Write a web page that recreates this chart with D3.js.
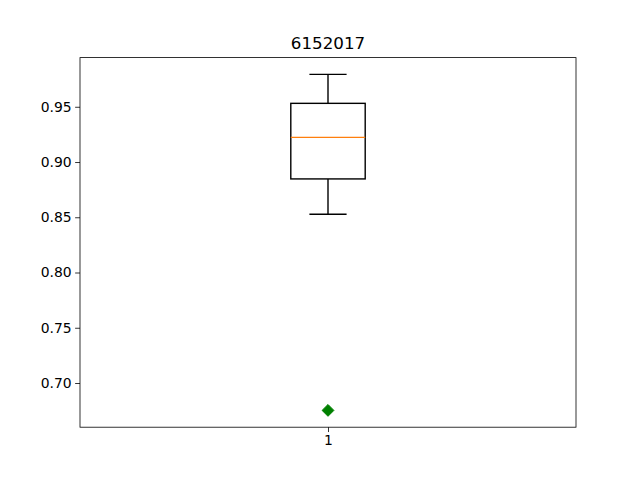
<!DOCTYPE html>
<html>
<head>
<meta charset="utf-8">
<script src="https://cdn.jsdelivr.net/npm/d3@7"></script>
<style>
  body { margin: 0; background: #fff; }
  svg { display: block; font-family: "DejaVu Sans", sans-serif; }
</style>
</head>
<body>
<svg id="chart" width="640" height="480"></svg>
<script>
// Data
const title = "6152017";
const categories = ["1"];
const whiskerLow = [0.8527];
const q1 = [0.8847];
const median = [0.9223];
const q3 = [0.9531];
const whiskerHigh = [0.9793];
const outliers = [[0.6752]];
const yTicks = [0.70, 0.75, 0.80, 0.85, 0.90, 0.95];

const W = 640, H = 480;
const m = { left: 80, right: 576, top: 57.6, bottom: 427.2 };
const svg = d3.select("#chart");
svg.append("rect").attr("width", W).attr("height", H).attr("fill", "#fff");

const x = d3.scaleLinear().domain([0.5, 1.5]).range([m.left, m.right]);
const y = d3.scaleLinear().domain([0.66, 0.9945]).range([m.bottom, m.top]);

const boxW = 0.15, capW = 0.075;

const g = svg.append("g");
categories.forEach((c, i) => {
  const pos = i + 1;
  // whiskers
  g.append("line").attr("x1", x(pos)).attr("x2", x(pos))
    .attr("y1", y(q1[i])).attr("y2", y(whiskerLow[i]))
    .attr("stroke", "#000").attr("stroke-width", 1.4);
  g.append("line").attr("x1", x(pos)).attr("x2", x(pos))
    .attr("y1", y(q3[i])).attr("y2", y(whiskerHigh[i]))
    .attr("stroke", "#000").attr("stroke-width", 1.4);
  // caps
  [whiskerLow[i], whiskerHigh[i]].forEach(v => {
    g.append("line").attr("x1", x(pos - capW / 2)).attr("x2", x(pos + capW / 2))
      .attr("y1", y(v)).attr("y2", y(v))
      .attr("stroke", "#000").attr("stroke-width", 1.4);
  });
  // box
  g.append("rect")
    .attr("x", x(pos - boxW / 2)).attr("width", x(pos + boxW / 2) - x(pos - boxW / 2))
    .attr("y", y(q3[i])).attr("height", y(q1[i]) - y(q3[i]))
    .attr("fill", "none").attr("stroke", "#000").attr("stroke-width", 1.4);
  // median
  g.append("line").attr("x1", x(pos - boxW / 2)).attr("x2", x(pos + boxW / 2))
    .attr("y1", y(median[i])).attr("y2", y(median[i]))
    .attr("stroke", "#ff7f0e").attr("stroke-width", 1.4);
  // outliers
  outliers[i].forEach(v => {
    const s = 5.9;
    g.append("path")
      .attr("d", `M${x(pos)},${y(v) - s} L${x(pos) + s},${y(v)} L${x(pos)},${y(v) + s} L${x(pos) - s},${y(v)} Z`)
      .attr("fill", "#008000").attr("stroke", "#008000").attr("stroke-width", 1);
  });
});

// axes frame
svg.append("rect").attr("x", m.left).attr("y", m.top)
  .attr("width", m.right - m.left).attr("height", m.bottom - m.top)
  .attr("fill", "none").attr("stroke", "#000").attr("stroke-width", 0.8);

// y axis
const yAxis = d3.axisLeft(y).tickValues(yTicks).tickFormat(d3.format(".2f"))
  .tickSize(4.86).tickPadding(3.5);
const ya = svg.append("g").attr("transform", `translate(${m.left},0)`).call(yAxis);
ya.select(".domain").remove();
ya.selectAll("line").attr("stroke-width", 0.8);
ya.selectAll("text").attr("font-size", "13.9px").attr("font-family", "DejaVu Sans, sans-serif").attr("fill", "#000");

// x axis
const xAxis = d3.axisBottom(x).tickValues([1]).tickFormat((d, i) => categories[i])
  .tickSize(4.86).tickPadding(3.5);
const xa = svg.append("g").attr("transform", `translate(0,${m.bottom})`).call(xAxis);
xa.select(".domain").remove();
xa.selectAll("line").attr("stroke-width", 0.8);
xa.selectAll("text").attr("font-size", "13.9px").attr("font-family", "DejaVu Sans, sans-serif").attr("fill", "#000");

// title
svg.append("text").attr("x", (m.left + m.right) / 2).attr("y", m.top - 8.3)
  .attr("text-anchor", "middle").attr("font-size", "16.7px").attr("fill", "#000")
  .text(title);
</script>
</body>
</html>
